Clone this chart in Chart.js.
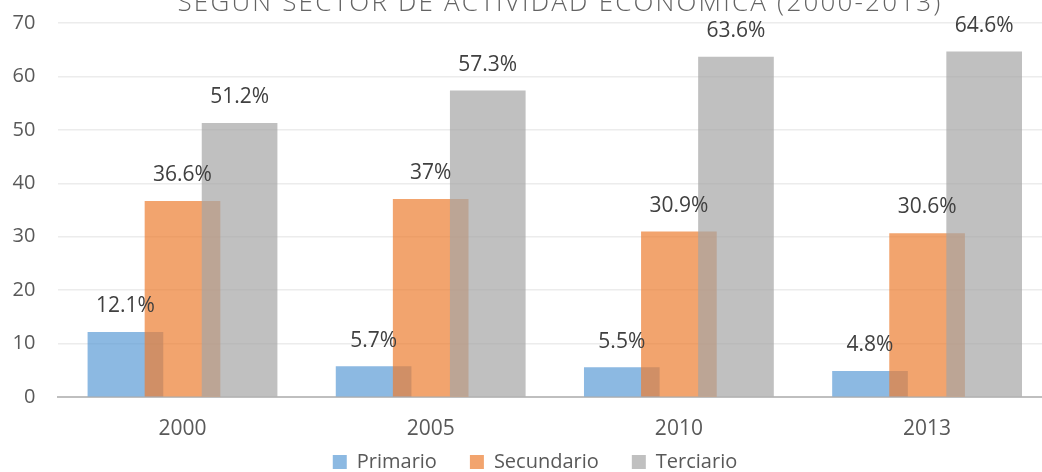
<!DOCTYPE html>
<html>
<head>
<meta charset="utf-8">
<script src="https://cdn.jsdelivr.net/npm/chart.js@4.4.1/dist/chart.umd.min.js"></script>
<style>
  html, body { margin: 0; padding: 0; background: #fff; }
  #wrap { width: 1042px; height: 472px; }
</style>
</head>
<body>
<div id="wrap"><canvas id="grafico"></canvas></div>
<script>
// datos
const anios = ['2000', '2005', '2010', '2013'];
const primario = [12.1, 5.7, 5.5, 4.8];
const secundario = [36.6, 37, 30.9, 30.6];
const terciario = [51.2, 57.3, 63.6, 64.6];
const etiquetasY = [0, 10, 20, 30, 40, 50, 60, 70];
const titulo = 'SEGÚN SECTOR DE ACTIVIDAD ECONÓMICA (2000-2013)';

const desfase = 0.23; // barras solapadas al estilo Excel

function puntos(valores, d) {
    return valores.map((v, i) => ({ x: i + d, y: v }));
}

// etiquetas de valor encima de cada barra
const etiquetasValor = {
    id: 'etiquetasValor',
    afterDatasetsDraw(chart) {
        const ctx = chart.ctx;
        ctx.save();
        ctx.font = '21px "Open Sans"';
        ctx.fillStyle = '#404040';
        ctx.textAlign = 'center';
        ctx.textBaseline = 'middle';
        chart.data.datasets.forEach((ds, i) => {
            chart.getDatasetMeta(i).data.forEach((bar, j) => {
                ctx.fillText(ds.data[j].y + '%', bar.x, bar.y - 26);
            });
        });
        ctx.restore();
    }
};

// título recortado en la parte superior
const tituloCortado = {
    id: 'tituloCortado',
    afterDraw(chart) {
        const ctx = chart.ctx;
        ctx.save();
        ctx.font = '300 26px "Open Sans"';
        ctx.letterSpacing = '2.2px';
        ctx.fillStyle = '#636363';
        ctx.textAlign = 'center';
        ctx.textBaseline = 'alphabetic';
        ctx.fillText(titulo, 560, 11);
        ctx.restore();
    }
};

const ctx = document.getElementById('grafico').getContext('2d');
new Chart(ctx, {
    type: 'bar',
    data: {
        datasets: [
            {
                label: 'Primario',
                data: puntos(primario, -desfase),
                backgroundColor: 'rgba(91, 155, 213, 0.7)',
                order: 3,
            },
            {
                label: 'Secundario',
                data: puntos(secundario, 0),
                backgroundColor: 'rgba(237, 125, 49, 0.7)',
                order: 2,
            },
            {
                label: 'Terciario',
                data: puntos(terciario, desfase),
                backgroundColor: 'rgba(165, 165, 165, 0.7)',
                order: 1,
            },
        ],
    },
    options: {
        responsive: true,
        maintainAspectRatio: false,
        animation: false,
        layout: { padding: { top: 23, left: 0, right: -28, bottom: -10 } },
        datasets: { bar: { barThickness: 75, grouped: false } },
        scales: {
            x: {
                type: 'linear',
                offset: false,
                min: -0.5,
                max: 3.463,
                afterBuildTicks: (axis) => { axis.ticks = anios.map((a, i) => ({ value: i })); },
                afterFit: (axis) => {
                    axis.height = 22;
                    axis._computeLabelArea = () => undefined; // que no recorte los años
                },
                grid: { display: false, drawTicks: false },
                border: { display: true, color: '#bfbfbf', width: 2 },
                ticks: {
                    padding: 19,
                    maxRotation: 0,
                    autoSkip: false,
                    color: '#595959',
                    font: { family: 'Open Sans', size: 21 },
                    callback: (v) => anios[v] ?? '',
                },
            },
            y: {
                min: 0,
                max: 70,
                afterBuildTicks: (axis) => { axis.ticks = etiquetasY.map(v => ({ value: v })); },
                afterFit: (axis) => {
                    axis.width = 58.4;
                    axis.paddingTop = 0;
                    axis.paddingBottom = 0;
                },
                grid: { color: '#ececec', lineWidth: 1.5, drawTicks: false },
                border: { display: false },
                ticks: {
                    padding: 23,
                    color: '#595959',
                    font: { family: 'Open Sans', size: 20 },
                },
            },
        },
        plugins: {
            legend: {
                position: 'bottom',
                labels: {
                    boxWidth: 14,
                    boxHeight: 14,
                    padding: 33,
                    color: '#595959',
                    font: { family: 'Open Sans', size: 20 },
                    sort: (a, b) => a.datasetIndex - b.datasetIndex,
                },
            },
            tooltip: { enabled: false },
        },
    },
    plugins: [etiquetasValor, tituloCortado],
});
</script>
</body>
</html>
